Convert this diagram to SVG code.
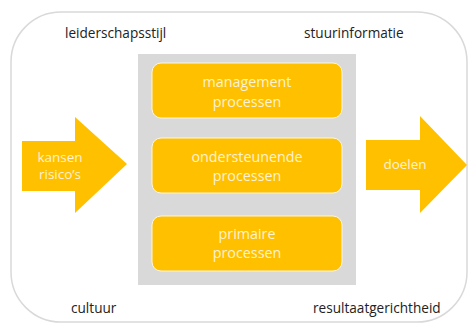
<svg xmlns="http://www.w3.org/2000/svg" width="468" height="323" viewBox="0 0 468 323">
<style>
.lbl{font-family:"Open Sans","Liberation Sans",sans-serif;font-size:13.6px;fill:#222;}
.in{font-family:"Open Sans","Liberation Sans",sans-serif;font-size:14.3px;fill:#FFF3D0;text-anchor:middle;}
.box{fill:#FFC000;stroke:#FFF6DC;stroke-width:1;}
.arrow{fill:#FFC000;}
</style>
<rect x="0" y="0" width="468" height="323" fill="#FFFFFF"/>
<rect id="frame" x="11" y="12" width="456" height="310" rx="50" ry="50" fill="#FFFFFF" stroke="#D9D9D9" stroke-width="1.5"/>
<g id="labels">
<text class="lbl" x="65" y="38">leiderschapsstijl</text>
<text class="lbl" x="304" y="38">stuurinformatie</text>
<text class="lbl" x="71" y="313">cultuur</text>
<text class="lbl" x="313" y="313">resultaatgerichtheid</text>
</g>
<g id="container">
<rect x="138" y="54" width="218" height="231" fill="#D9D9D9"/>
</g>
<g id="management">
<rect class="box" x="152" y="63" width="190" height="55" rx="9" ry="9"/>
<text class="in" x="247" y="87">management</text>
<text class="in" x="247" y="107">processen</text>
</g>
<g id="ondersteunend">
<rect class="box" x="152" y="138" width="190" height="55" rx="9" ry="9"/>
<text class="in" x="247" y="162">ondersteunende</text>
<text class="in" x="247" y="181">processen</text>
</g>
<g id="primair">
<rect class="box" x="152" y="216" width="190" height="55" rx="9" ry="9"/>
<text class="in" x="247" y="239">primaire</text>
<text class="in" x="247" y="258">processen</text>
</g>
<g id="connectors">
<g id="kansen">
<polygon class="arrow" points="22,141 75,141 75,117 127,164 75,213 75,191 22,191"/>
<text class="in" x="60" y="162" style="font-size:13.5px">kansen</text>
<text class="in" x="60" y="179" style="font-size:13.5px">risico’s</text>
</g>
<g id="doelen">
<polygon class="arrow" points="366,140 420,140 420,116 467,165 420,213 420,190 366,190"/>
<text class="in" x="405" y="169" style="font-size:13.5px">doelen</text>
</g>
</g>
</svg>
